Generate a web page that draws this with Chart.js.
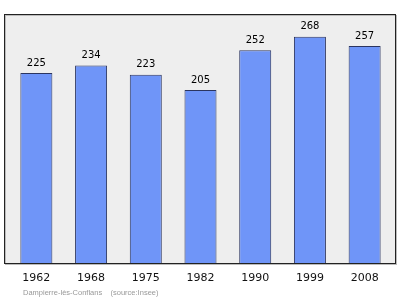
<!DOCTYPE html>
<html><head><meta charset="utf-8">
<script src="https://cdn.jsdelivr.net/npm/chart.js@4"></script>
<style>html,body{margin:0;padding:0;background:#fff}#wrap{width:400px;height:299px}</style>
</head><body><div id="wrap"><canvas id="c" width="400" height="299"></canvas></div>
<script>
const years = ['1962','1968','1975','1982','1990','1999','2008'];
const population = [225,234,223,205,252,268,257];
const caption = 'Dampierre-lès-Conflans    (source:Insee)';

const framePlugin = {
  id:'frame',
  beforeDraw(chart){
    const {ctx, chartArea:a} = chart;
    ctx.save();
    ctx.fillStyle = '#eeeeee';
    ctx.fillRect(a.left-5, a.top, a.right-a.left+8, a.bottom-a.top);
    ctx.strokeStyle = '#bbbbbb';
    ctx.lineWidth = 1;
    ctx.strokeRect(a.left-5+1.5, a.top+1.5, a.right-a.left+8, a.bottom-a.top);
    ctx.strokeStyle = '#222222';
    ctx.strokeRect(a.left-5+0.5, a.top+0.5, a.right-a.left+8, a.bottom-a.top);
    ctx.restore();
  },
  afterDatasetsDraw(chart){
    const {ctx} = chart;
    const meta = chart.getDatasetMeta(0);
    ctx.save();
    ctx.fillStyle = '#000';
    ctx.font = '10px "DejaVu Sans"';
    ctx.textAlign = 'center';
    ctx.textBaseline = 'middle';
    meta.data.forEach((el,i)=>{
      ctx.fillText(String(population[i]), el.x, el.y-10);
    });
    ctx.fillStyle = '#999999';
    ctx.font = '7.5px "Liberation Sans"';
    ctx.textAlign = 'left';
    ctx.fillText(caption, 23, 293);
    ctx.restore();
  }
};

new Chart(document.getElementById('c'), {
  type:'bar',
  data:{labels:years, datasets:[{data:population, backgroundColor:'#6f95f8', borderColor:'#2b3560', borderWidth:1, borderSkipped:'bottom', categoryPercentage:1, barPercentage:0.585}]},
  options:{
    responsive:false, animation:false,
    layout:{padding:{left:9,right:8,top:14,bottom:0}},
    plugins:{legend:{display:false}, tooltip:{enabled:false}},
    scales:{
      y:{display:false, min:0, max:295},
      x:{
        grid:{display:false, drawTicks:false}, border:{display:false},
        ticks:{color:'#111', font:{family:'DejaVu Sans', size:11}, padding:9},
        afterFit(s){ s.height = 36; }
      }
    }
  },
  plugins:[framePlugin]
});
</script></body></html>
